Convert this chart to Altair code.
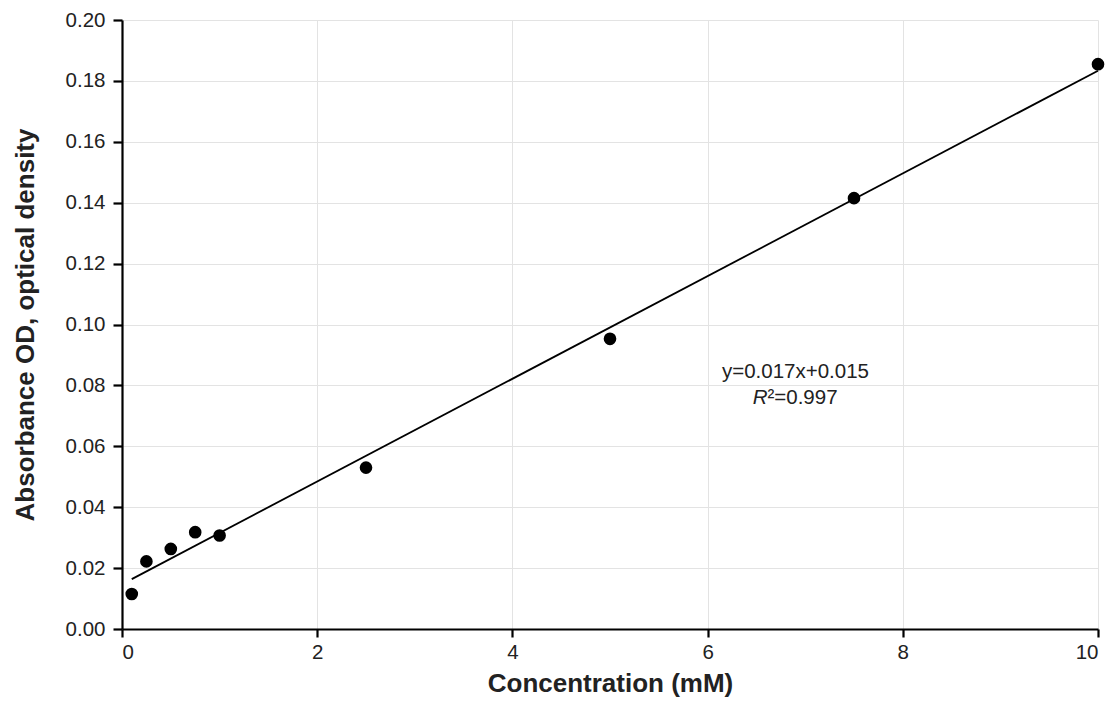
import altair as alt
import pandas as pd

conc = [0.1, 0.25, 0.5, 0.75, 1.0, 2.5, 5.0, 7.5, 10.0]
absorb = [0.0115, 0.0222, 0.0263, 0.0318, 0.0307, 0.0530, 0.0953, 0.1415, 0.1855]

eq_text = ["y=0.017x+0.015"]
r2_text = ["\u00b2=0.997"]

df = pd.DataFrame({"x": conc, "y": absorb})

FONT = "Liberation Sans"
TXT = "#222222"

xscale = alt.Scale(domain=[0, 10], nice=False)
yscale = alt.Scale(domain=[0, 0.2], nice=False)

xaxis = alt.Axis(title="Concentration (mM)", values=[0, 2, 4, 6, 8, 10], format="d",
                 grid=True, gridColor="#e3e3e3", gridWidth=1,
                 domainColor="black", domainWidth=2.2, tickColor="black", tickWidth=2.2, tickSize=8,
                 labelFont=FONT, labelFontSize=20.5, labelColor=TXT, labelPadding=5,
                 titleFont=FONT, titleFontSize=26, titleFontWeight="bold", titleColor=TXT,
                 titlePadding=8)
yaxis = alt.Axis(title="Absorbance OD, optical density",
                 values=[0, 0.02, 0.04, 0.06, 0.08, 0.10, 0.12, 0.14, 0.16, 0.18, 0.20],
                 format=".2f", grid=True, gridColor="#e3e3e3", gridWidth=1,
                 domainColor="black", domainWidth=2.2, tickColor="black", tickWidth=2.2, tickSize=9,
                 labelFont=FONT, labelFontSize=20.5, labelColor=TXT, labelPadding=8,
                 titleFont=FONT, titleFontSize=26, titleFontWeight="bold", titleColor=TXT,
                 titlePadding=27)

points = alt.Chart(df).mark_circle(size=160, color="black", opacity=1).encode(
    x=alt.X("x:Q", scale=xscale, axis=xaxis),
    y=alt.Y("y:Q", scale=yscale, axis=yaxis),
)

line = alt.Chart(df).transform_regression("x", "y", extent=[0.1, 10]).mark_line(
    color="black", strokeWidth=1.8).encode(
    x=alt.X("x:Q", scale=xscale),
    y=alt.Y("y:Q", scale=yscale),
)

ann1 = alt.Chart(pd.DataFrame({"x": [6.9], "y": [0.0844], "t": eq_text})).mark_text(
    font=FONT, fontSize=20.5, color=TXT, align="center", baseline="middle").encode(
    x=alt.X("x:Q", scale=xscale), y=alt.Y("y:Q", scale=yscale), text="t:N")

annR = alt.Chart(pd.DataFrame({"x": [6.9], "y": [0.0760], "t": ["R"]})).mark_text(
    font=FONT, fontSize=20.5, fontStyle="italic", color=TXT, align="right", baseline="middle",
    dx=-28).encode(
    x=alt.X("x:Q", scale=xscale), y=alt.Y("y:Q", scale=yscale), text="t:N")

ann2 = alt.Chart(pd.DataFrame({"x": [6.9], "y": [0.0760], "t": r2_text})).mark_text(
    font=FONT, fontSize=20.5, color=TXT, align="left", baseline="middle", dx=-28).encode(
    x=alt.X("x:Q", scale=xscale), y=alt.Y("y:Q", scale=yscale), text="t:N")

chart = alt.layer(line, points, ann1, annR, ann2).properties(
    width=976, height=609, padding={"left": 4, "top": 2, "right": 0, "bottom": 0}
).configure_view(stroke=None)

chart.save("out.html", embed_options={"renderer": "svg", "actions": False})
